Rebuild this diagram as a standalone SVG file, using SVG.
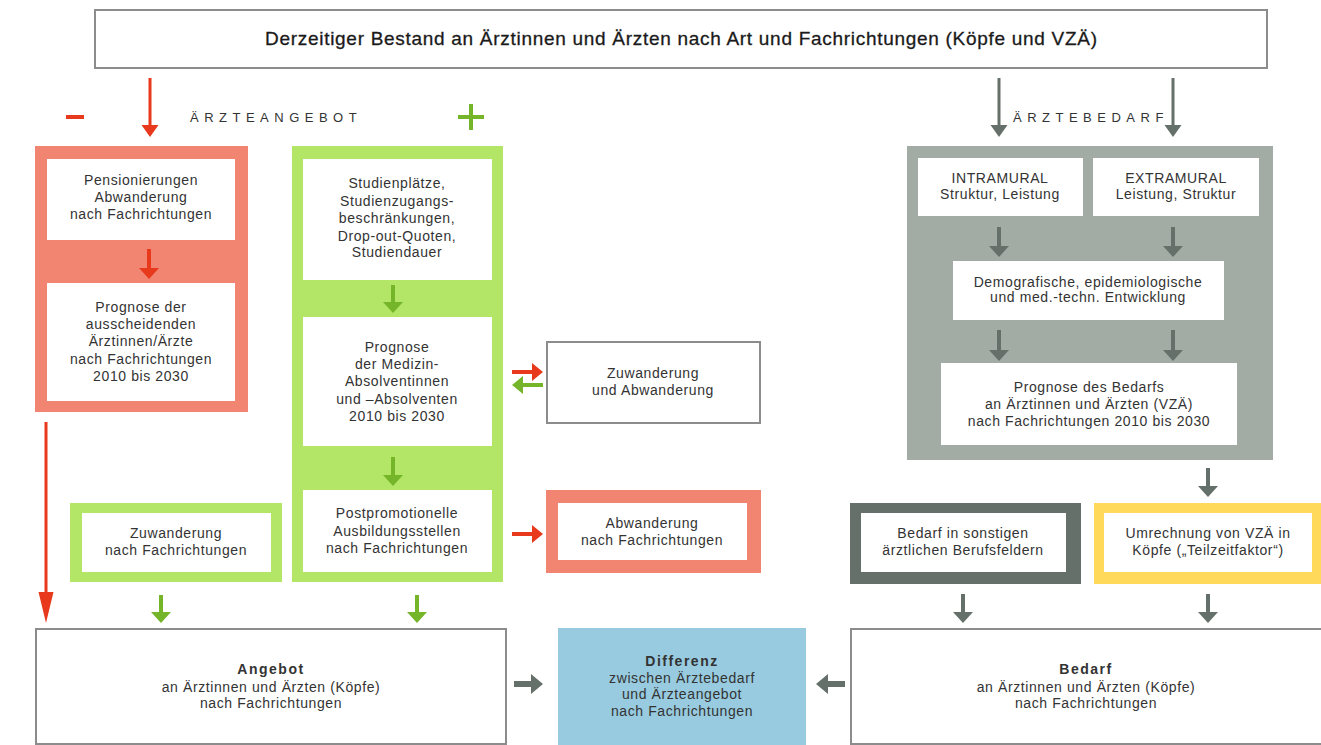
<svg xmlns="http://www.w3.org/2000/svg" width="1321" height="745" viewBox="0 0 1321 745">
<style>
.t{font-family:"Liberation Sans",Arial,sans-serif;font-size:14px;fill:#333;text-anchor:middle;letter-spacing:0.6px}
.b{font-weight:bold;letter-spacing:1.5px}
.title{font-family:"Liberation Sans",Arial,sans-serif;font-size:19px;fill:#1a1a1a;text-anchor:middle;stroke:#1a1a1a;stroke-width:0.3px}
.hdr{font-family:"Liberation Sans",Arial,sans-serif;font-size:13px;fill:#333;letter-spacing:5.5px}
.box{fill:#fff;stroke:#8c8c8c;stroke-width:2}
.w{fill:#fff}
.red{fill:#F28572}
.grn{fill:#B3E566}
.gry{fill:#A3ABA5}
.dgr{fill:#66706A}
.yel{fill:#FFD95A}
.blu{fill:#98CBE0}
.ar{fill:#E8391D}
.ag{fill:#74B52A}
.ad{fill:#66706A}
</style>
<rect width="1321" height="745" fill="#fff"/>

<g id="bestand">
<rect class="box" x="95" y="10" width="1172" height="58"/>
<text class="title" x="681" y="45" textLength="832" lengthAdjust="spacing">Derzeitiger Bestand an Ärztinnen und Ärzten nach Art und Fachrichtungen (Köpfe und VZÄ)</text>
</g>

<g id="labels">
<rect class="ar" x="66" y="115" width="18" height="4"/>
<text class="hdr" x="190" y="122">ÄRZTEANGEBOT</text>
<rect class="ag" x="458" y="115" width="26" height="4"/>
<rect class="ag" x="469" y="104" width="4" height="26"/>
<text class="hdr" x="1013" y="122">ÄRZTEBEDARF</text>
</g>

<g id="abgang-panel">
<rect class="red" x="35" y="146" width="213" height="266"/>
</g>
<g id="pensionierungen">
<rect class="w" x="47" y="159" width="188" height="81"/>
<text class="t"><tspan x="141" y="185">Pensionierungen</tspan><tspan x="141" y="202">Abwanderung</tspan><tspan x="141" y="219">nach Fachrichtungen</tspan></text>
</g>
<g id="prognose-ausscheidend">
<rect class="w" x="47" y="283" width="188" height="118"/>
<text class="t"><tspan x="141" y="312">Prognose der</tspan><tspan x="141" y="329">ausscheidenden</tspan><tspan x="141" y="346">Ärztinnen/Ärzte</tspan><tspan x="141" y="364">nach Fachrichtungen</tspan><tspan x="141" y="381">2010 bis 2030</tspan></text>
</g>

<g id="zugang-panel">
<rect class="grn" x="292" y="146" width="211" height="436"/>
</g>
<g id="studienplaetze">
<rect class="w" x="303" y="159" width="189" height="121"/>
<text class="t"><tspan x="397" y="188">Studienplätze,</tspan><tspan x="397" y="206">Studienzugangs-</tspan><tspan x="397" y="223">beschränkungen,</tspan><tspan x="397" y="241">Drop-out-Quoten,</tspan><tspan x="397" y="257">Studiendauer</tspan></text>
</g>
<g id="prognose-absolventen">
<rect class="w" x="303" y="317" width="189" height="129"/>
<text class="t"><tspan x="397" y="352">Prognose</tspan><tspan x="397" y="369">der Medizin-</tspan><tspan x="397" y="386">Absolventinnen</tspan><tspan x="397" y="404">und –Absolventen</tspan><tspan x="397" y="421">2010 bis 2030</tspan></text>
</g>
<g id="postpromotionell">
<rect class="w" x="303" y="490" width="189" height="82"/>
<text class="t"><tspan x="397" y="518">Postpromotionelle</tspan><tspan x="397" y="536">Ausbildungsstellen</tspan><tspan x="397" y="553">nach Fachrichtungen</tspan></text>
</g>

<g id="zuwanderung-fach">
<rect class="grn" x="70" y="503" width="212" height="79"/>
<rect class="w" x="82" y="513" width="189" height="59"/>
<text class="t"><tspan x="176" y="538">Zuwanderung</tspan><tspan x="176" y="555">nach Fachrichtungen</tspan></text>
</g>

<g id="zu-abwanderung">
<rect class="box" x="547" y="342" width="213" height="81"/>
<text class="t"><tspan x="653" y="378">Zuwanderung</tspan><tspan x="653" y="395">und Abwanderung</tspan></text>
</g>

<g id="abwanderung-fach">
<rect class="red" x="546" y="490" width="215" height="83"/>
<rect class="w" x="558" y="503" width="189" height="57"/>
<text class="t"><tspan x="652" y="528">Abwanderung</tspan><tspan x="652" y="545">nach Fachrichtungen</tspan></text>
</g>

<g id="bedarf-panel">
<rect class="gry" x="907" y="146" width="366" height="314"/>
</g>
<g id="intramural">
<rect class="w" x="918" y="158" width="165" height="58"/>
<text class="t"><tspan x="1000" y="183">INTRAMURAL</tspan><tspan x="1000" y="199">Struktur, Leistung</tspan></text>
</g>
<g id="extramural">
<rect class="w" x="1093" y="158" width="166" height="58"/>
<text class="t"><tspan x="1176" y="183">EXTRAMURAL</tspan><tspan x="1176" y="199">Leistung, Struktur</tspan></text>
</g>
<g id="demografie">
<rect class="w" x="953" y="261" width="271" height="59"/>
<text class="t"><tspan x="1088" y="287">Demografische, epidemiologische</tspan><tspan x="1088" y="302">und med.-techn. Entwicklung</tspan></text>
</g>
<g id="prognose-bedarf">
<rect class="w" x="941" y="363" width="296" height="82"/>
<text class="t"><tspan x="1089" y="392">Prognose des Bedarfs</tspan><tspan x="1089" y="409">an Ärztinnen und Ärzten (VZÄ)</tspan><tspan x="1089" y="426">nach Fachrichtungen 2010 bis 2030</tspan></text>
</g>

<g id="sonstige-berufsfelder">
<rect class="dgr" x="850" y="503" width="231" height="81"/>
<rect class="w" x="861" y="513" width="205" height="59"/>
<text class="t"><tspan x="963" y="538">Bedarf in sonstigen</tspan><tspan x="963" y="555">ärztlichen Berufsfeldern</tspan></text>
</g>
<g id="umrechnung">
<rect class="yel" x="1094" y="503" width="240" height="81"/>
<rect class="w" x="1104" y="513" width="208" height="59"/>
<text class="t"><tspan x="1208" y="538">Umrechnung von VZÄ in</tspan><tspan x="1208" y="555">Köpfe („Teilzeitfaktor“)</tspan></text>
</g>

<g id="angebot">
<rect class="box" x="36" y="629" width="470" height="115"/>
<text class="t"><tspan class="b" x="271" y="674">Angebot</tspan><tspan x="271" y="692">an Ärztinnen und Ärzten (Köpfe)</tspan><tspan x="271" y="708">nach Fachrichtungen</tspan></text>
</g>
<g id="differenz">
<rect class="blu" x="558" y="628" width="248" height="120"/>
<text class="t"><tspan class="b" x="682" y="666">Differenz</tspan><tspan x="682" y="683">zwischen Ärztebedarf</tspan><tspan x="682" y="699">und Ärzteangebot</tspan><tspan x="682" y="716">nach Fachrichtungen</tspan></text>
</g>
<g id="bedarf">
<rect class="box" x="851" y="629" width="472" height="115"/>
<text class="t"><tspan class="b" x="1086" y="674">Bedarf</tspan><tspan x="1086" y="692">an Ärztinnen und Ärzten (Köpfe)</tspan><tspan x="1086" y="708">nach Fachrichtungen</tspan></text>
</g>

<g id="connectors">
<path class="ar" d="M148.5,78h3v47h7l-8.5,12l-8.5,-12h7z"/>
<path class="ad" d="M997.5,78h3v47h7l-8.5,12l-8.5,-12h7z"/>
<path class="ad" d="M1171.5,78h3v47h7l-8.5,12l-8.5,-12h7z"/>
<path class="ar" d="M147,249h4v19h8l-10,11l-10,-11h8z"/>
<path class="ag" d="M391,285h4v17h8l-10,11l-10,-11h8z"/>
<path class="ag" d="M391,457h4v18h8l-10,11l-10,-11h8z"/>
<path class="ad" d="M997,227h4v19h8l-10,11l-10,-11h8z"/>
<path class="ad" d="M1171,227h4v19h8l-10,11l-10,-11h8z"/>
<path class="ad" d="M997,330h4v20h8l-10,11l-10,-11h8z"/>
<path class="ad" d="M1171,330h4v20h8l-10,11l-10,-11h8z"/>
<path class="ad" d="M1206,468h4v18h8l-10,11l-10,-11h8z"/>
<path class="ar" d="M44.5,422h3v170h6l-7.5,31l-7.5,-31h6z"/>
<path class="ag" d="M159,595h4v17h8l-10,11l-10,-11h8z"/>
<path class="ag" d="M415,595h4v17h8l-10,11l-10,-11h8z"/>
<path class="ad" d="M961,594h4v18h8l-10,11l-10,-11h8z"/>
<path class="ad" d="M1206,594h4v18h8l-10,11l-10,-11h8z"/>
<path class="ar" d="M512,370h20v-7l11,9l-11,9v-7h-20z"/>
<path class="ag" d="M543,383h-20v-7l-11,9l11,9v-7h20z"/>
<path class="ar" d="M512,532h20v-7l11,9l-11,9v-7h-20z"/>
<path class="ad" d="M514,681h17v-7l12,10l-12,10v-7h-17z"/>
<path class="ad" d="M845,681h-17v-7l-12,10l12,10v-7h17z"/>
</g>
</svg>
